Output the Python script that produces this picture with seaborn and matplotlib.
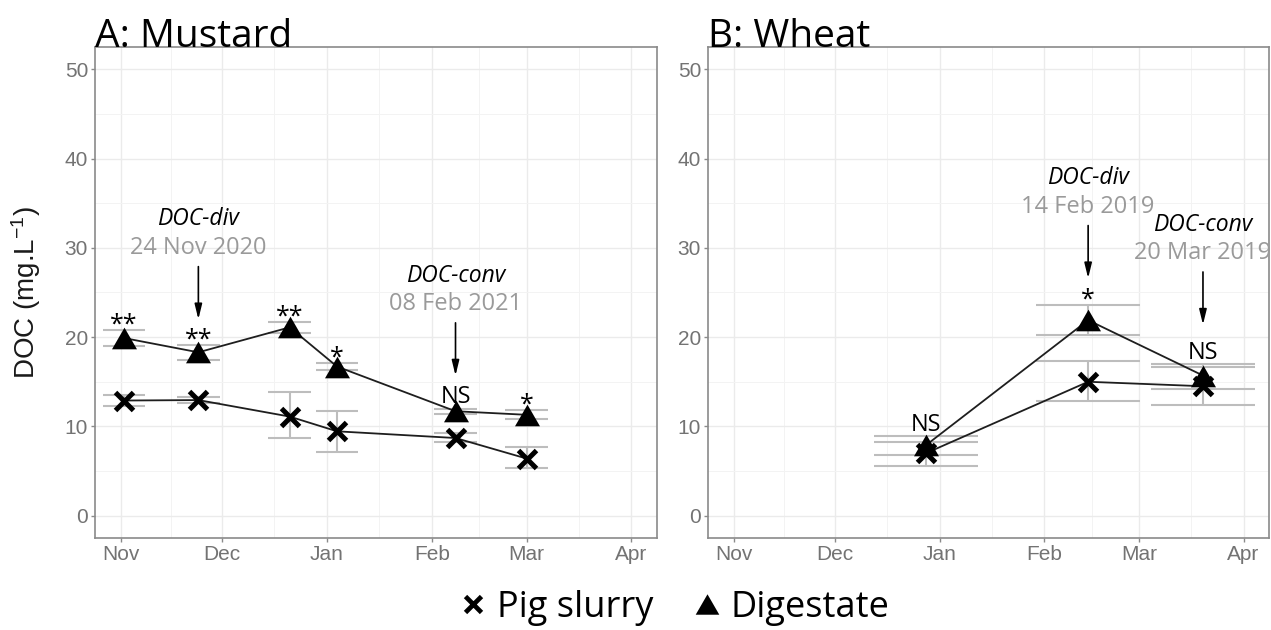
import pandas as pd
import numpy as np
import matplotlib
matplotlib.use('Agg')
import matplotlib.pyplot as plt
import matplotlib.dates as mdates
from matplotlib.ticker import FixedLocator
from matplotlib.lines import Line2D
import seaborn as sns

# A: Mustard (2020-2021)
dates_A = ['2020-11-02', '2020-11-24', '2020-12-21', '2021-01-04', '2021-02-08', '2021-03-01']
pig_A = [12.9, 12.95, 11.1, 9.45, 8.7, 6.4]
pig_A_lo = [12.3, 12.6, 8.7, 7.1, 8.25, 5.3]
pig_A_hi = [13.5, 13.25, 13.9, 11.75, 9.3, 7.7]
dig_A = [19.9, 18.3, 21.1, 16.7, 11.7, 11.3]
dig_A_lo = [19.0, 17.4, 20.5, 16.3, 11.4, 10.8]
dig_A_hi = [20.75, 19.1, 21.7, 17.1, 12.0, 11.8]
sig_A = ['**', '**', '**', '*', 'NS', '*']

# B: Wheat (2018-2019)
dates_B = ['2018-12-28', '2019-02-14', '2019-03-20']
pig_B = [7.0, 15.0, 14.5]
pig_B_lo = [5.6, 12.8, 12.4]
pig_B_hi = [8.2, 17.35, 16.7]
dig_B = [7.9, 21.9, 15.7]
dig_B_lo = [6.8, 20.2, 14.2]
dig_B_hi = [8.9, 23.6, 17.0]
sig_B = ['NS', '*', 'NS']

months = ['Nov', 'Dec', 'Jan', 'Feb', 'Mar', 'Apr']

sns.set_style('whitegrid')
plt.rcParams['font.family'] = ['Open Sans', 'DejaVu Sans']
plt.rcParams['text.color'] = 'black'
plt.rcParams['mathtext.fontset'] = 'custom'
plt.rcParams['mathtext.rm'] = 'Liberation Sans'
plt.rcParams['mathtext.it'] = 'Liberation Sans:italic'

TRI = [(-1, -0.866), (1, -0.866), (0, 0.866)]
EB = '#bdbdbd'
LINE = '#1e1e1e'


def make_df(dates, pig, pig_lo, pig_hi, dig, dig_lo, dig_hi):
    d = pd.to_datetime(dates)
    a = pd.DataFrame({'date': d, 'doc': pig, 'lo': pig_lo, 'hi': pig_hi, 'treatment': 'Pig slurry'})
    b = pd.DataFrame({'date': d, 'doc': dig, 'lo': dig_lo, 'hi': dig_hi, 'treatment': 'Digestate'})
    return pd.concat([a, b], ignore_index=True)


def draw_panel(ax, df, sig, first_year, title):
    pig = df[df.treatment == 'Pig slurry']
    dig = df[df.treatment == 'Digestate']
    sns.lineplot(data=pig, x='date', y='doc', ax=ax, color=LINE, lw=1.3, marker='x',
                 ms=13, mew=3.6, mec='black', errorbar=None, legend=False, zorder=3)
    sns.lineplot(data=dig, x='date', y='doc', ax=ax, color=LINE, lw=1.3, marker=TRI,
                 ms=18, mew=0, mec='black', mfc='black', errorbar=None, legend=False, zorder=4)

    # error bars, cap width like ggplot (0.9 x data resolution)
    xs = mdates.date2num(pd.to_datetime(df.date.unique()))
    w = 0.45 * np.min(np.diff(np.sort(xs)))
    for sub in (pig, dig):
        x = mdates.date2num(sub.date)
        ax.vlines(x, sub.lo, sub.hi, color=EB, lw=1.5, zorder=2)
        ax.hlines(sub.lo, x - w, x + w, color=EB, lw=1.5, zorder=2)
        ax.hlines(sub.hi, x - w, x + w, color=EB, lw=1.5, zorder=2)

    for x, hi, s in zip(mdates.date2num(dig.date), dig.hi, sig):
        ax.text(x, hi + (0.6 if s == 'NS' else -0.15), s, ha='center', va='baseline',
                fontsize=18 if s != 'NS' else 17, color='black', zorder=5)

    start = pd.Timestamp(f'{first_year}-11-01')
    end = pd.Timestamp(f'{first_year + 1}-04-01')
    major = pd.date_range(start, end, freq='MS')
    pad = (end - start) * 0.05
    ax.set_xlim(start - pad, end + pad)
    ax.xaxis.set_major_locator(FixedLocator(mdates.date2num(major)))
    ax.set_xticklabels(months)
    mids = mdates.date2num(major[:-1]) + np.diff(mdates.date2num(major)) / 2
    ax.xaxis.set_minor_locator(FixedLocator(mids))

    ax.set_ylim(-2.5, 52.5)
    ax.set_yticks(range(0, 51, 10))
    ax.set_yticks(range(5, 50, 10), minor=True)

    ax.grid(which='major', color='#ebebeb', lw=1.0)
    ax.grid(which='minor', color='#f3f3f3', lw=0.7)
    for sp in ax.spines.values():
        sp.set_color('#8a8a8a')
        sp.set_linewidth(1.2)
    ax.tick_params(which='major', length=3, width=1, color='#8a8a8a', pad=2,
                   labelsize=15, labelcolor='#737373', bottom=True, left=True)
    ax.tick_params(which='minor', length=0)
    for lab in ax.get_xticklabels() + ax.get_yticklabels():
        lab.set_family('Liberation Sans')
    ax.set_xlabel('')
    ax.set_ylabel('')
    ax.set_title(title, loc='left', fontsize=28, pad=0, color='black')


def annotate(ax, date, name, tip):
    d = pd.Timestamp(date)
    x = mdates.date2num(d)
    ax.annotate('', xy=(x, tip), xytext=(x, tip + 5.9),
                arrowprops=dict(arrowstyle='-|>,head_length=0.9,head_width=0.22',
                                color='black', lw=1.2, shrinkA=0, shrinkB=0))
    ax.text(x, tip + 8.0, d.strftime('%d %b %Y'), ha='center', va='center',
            fontsize=17, color='#9a9a9a', clip_on=False)
    ax.text(x, tip + 11.2, name, ha='center', va='center', fontsize=16.5,
            style='italic', color='black', clip_on=False)


fig = plt.figure(figsize=(12.71, 6.30), dpi=100)
axA = fig.add_axes([95 / 1271, 1 - 538 / 630, 562 / 1271, 491 / 630])
axB = fig.add_axes([708 / 1271, 1 - 538 / 630, 561 / 1271, 491 / 630])

df_A = make_df(dates_A, pig_A, pig_A_lo, pig_A_hi, dig_A, dig_A_lo, dig_A_hi)
df_B = make_df(dates_B, pig_B, pig_B_lo, pig_B_hi, dig_B, dig_B_lo, dig_B_hi)

draw_panel(axA, df_A, sig_A, 2020, 'A: Mustard')
draw_panel(axB, df_B, sig_B, 2018, 'B: Wheat')

annotate(axA, '2020-11-24', 'DOC-div', 22.0)
annotate(axA, '2021-02-08', 'DOC-conv', 15.7)
annotate(axB, '2019-02-14', 'DOC-div', 26.6)
annotate(axB, '2019-03-20', 'DOC-conv', 21.4)

axA.set_ylabel('DOC (mg.L$^{-1}$)', fontsize=20, family='Liberation Sans', color='#1a1a1a')
axA.yaxis.set_label_coords(-0.093, 0.5)

handles = [Line2D([], [], ls='none', marker='x', ms=12, mew=3.4, color='black'),
           Line2D([], [], ls='none', marker=TRI, ms=17, mew=0, color='black')]
fig.legend(handles, ['Pig slurry', 'Digestate'], loc='center', bbox_to_anchor=(0.529, 0.035),
           ncol=2, frameon=False, fontsize=26, handletextpad=0.15, columnspacing=1.0,
           handlelength=1.0, borderpad=0, labelcolor='black')

fig.savefig('out.png', dpi=100)
